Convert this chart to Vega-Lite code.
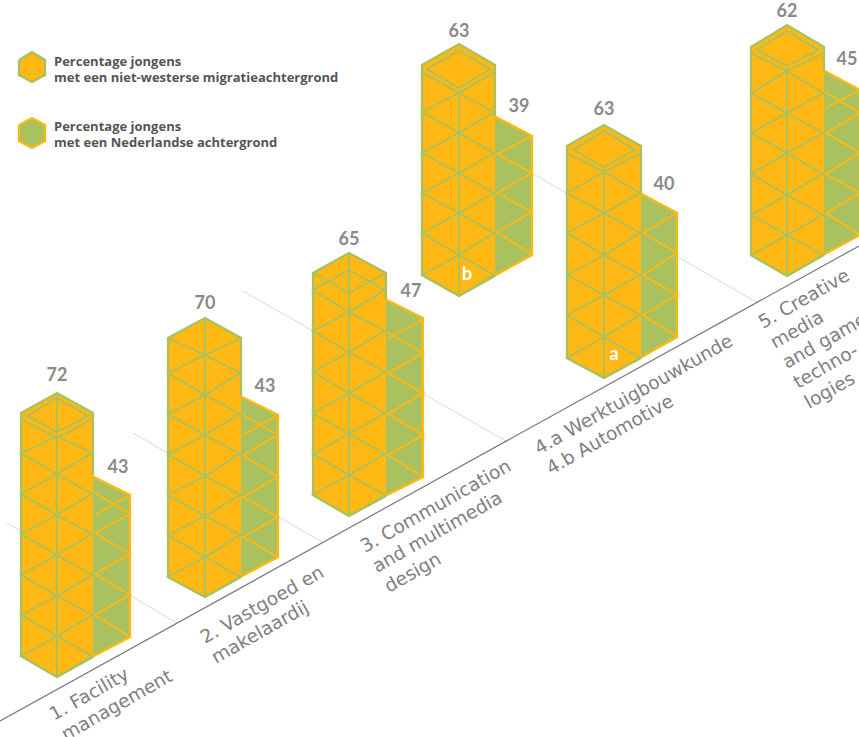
{
"$schema":"https://vega.github.io/schema/vega-lite/v6.json",
"width":859,"height":737,"padding":0,"autosize":{"type":"none"},"background":"#ffffff",
"config":{"view":{"stroke":null}},
"datasets":{
"ground":[
{"id":"g1","x":[7,177],"y":[523,623]},
{"id":"g2","x":[133,322],"y":[433,542]},
{"id":"g3","x":[243,506],"y":[291,441]},
{"id":"g4","x":[495,758],"y":[152,303]}],
"axis":[{"id":"axis","x":[0,859],"y":[721,246]}],
"greenFaces":[
{"category":"1. Facility management","series":"Nederlands","value":43,"x":[92,130],"top":[476,495],"bottom":[657,637]},
{"category":"2. Vastgoed en makelaardij","series":"Nederlands","value":43,"x":[240,278],"top":[396,415],"bottom":[577,557]},
{"category":"3. Communication and multimedia design","series":"Nederlands","value":47,"x":[385,423],"top":[299,318],"bottom":[496,477]},
{"category":"4.b Automotive","series":"Nederlands","value":39,"x":[494,532],"top":[116,136],"bottom":[276,255]},
{"category":"4.a Werktuigbouwkunde","series":"Nederlands","value":40,"x":[640,677],"top":[193,213],"bottom":[358,337]},
{"category":"5. Creative media and game technologies","series":"Nederlands","value":45,"x":[823,860],"top":[70,90],"bottom":[255,235]},
{"category":"legend","series":"Nederlands","value":0,"x":[19,32,45],"top":[125,118,125],"bottom":[141,148,141]}],
"orangeFaces":[
{"category":"1. Facility management","series":"niet-westers","value":72,"x":[21,57,93],"top":[413,393,413],"bottom":[656,677,657]},
{"category":"2. Vastgoed en makelaardij","series":"niet-westers","value":70,"x":[168,205,241],"top":[338,318,338],"bottom":[577,597,577]},
{"category":"3. Communication and multimedia design","series":"niet-westers","value":65,"x":[313,349,386],"top":[273,253,273],"bottom":[495,516,495]},
{"category":"4.b Automotive","series":"niet-westers","value":63,"x":[422,459,495],"top":[65,44,65],"bottom":[275,296,276]},
{"category":"4.a Werktuigbouwkunde","series":"niet-westers","value":63,"x":[567,604,641],"top":[146,125,146],"bottom":[358,378,358]},
{"category":"5. Creative media and game technologies","series":"niet-westers","value":62,"x":[751,787,824],"top":[47,25,47],"bottom":[255,276,255]},
{"category":"legend","series":"niet-westers","value":0,"x":[19,32,45],"top":[60,52,60],"bottom":[75,82,75]}],
"greenLines":[
{"id":"c1o","x":[92,130,130,92],"y":[476,495,637,657]},
{"id":"c1z","x":[95,130,95,130,95,130,95,130],"y":[493,514,533,514,533,554,574,554]},
{"id":"c1y","x":[95,130],"y":[515,495]},
{"id":"c1w","x":[130,95,130,95,130],"y":[554,574,595,615,637]},
{"id":"c2o","x":[240,278,278,240],"y":[396,415,557,577]},
{"id":"c2x","x":[243,278],"y":[415,435]},
{"id":"c2y","x":[243,278],"y":[435,415]},
{"id":"c2z","x":[278,243,278,243,278,243,278],"y":[435,455,477,497,517,537,557]},
{"id":"c3o","x":[385,423,423,385],"y":[299,318,477,496]},
{"id":"c3x","x":[388,423,388,423,388,423,388,423,388,423],"y":[333,353,373,393,414,435,455,477,455,477]},
{"id":"c3y","x":[388,423],"y":[338,320]},
{"id":"c3z","x":[423,388,423,388,423,388],"y":[353,373,393,414,435,455]},
{"id":"c4bo","x":[494,532,532,494],"y":[116,136,255,276]},
{"id":"c4bz","x":[532,497,532,497,532,497,532],"y":[136,154,173,193,212,232,255]},
{"id":"c4ao","x":[640,677,677,640],"y":[193,213,337,358]},
{"id":"c4az","x":[677,643,677,643,677,643,677],"y":[213,233,253,275,295,315,337]},
{"id":"c5o","x":[823,860,860,823],"y":[70,90,235,255]},
{"id":"c5x","x":[826,860],"y":[93,113]},
{"id":"c5y","x":[826,860],"y":[108,90]},
{"id":"c5z","x":[860,826,860,826,860,826,860],"y":[113,133,153,174,193,213,235]},
{"id":"legG","x":[19,32,45,45,32,19,19],"y":[125,118,125,141,148,141,125]}],
"orangeLines":[
{"id":"c1o","x":[93,93,57,21,21,57,93],"y":[475,413,393,413,656,677,657]},
{"id":"c1v","x":[57,57],"y":[393,677]},
{"id":"c1i","x":[57,27,57,88,57],"y":[398,416,432,416,398]},
{"id":"c1c","x":[21,57,93],"y":[419,438,419]},
{"id":"c1l","x":[57,21,57,21,57,21,57,21,57,21,57,21,57],"y":[436,453,474,494,515,534,555,575,596,615,636,656,677]},
{"id":"c1r","x":[57,92,57,92,57,92,57,92,57,92,57,92,57],"y":[436,453,474,494,515,534,555,575,596,615,636,656,677]},
{"id":"c2o","x":[241,241,205,168,168,205,241],"y":[396,338,318,338,577,597,577]},
{"id":"c2v","x":[205,205],"y":[318,597]},
{"id":"c2c","x":[168,205,241],"y":[338,355,338]},
{"id":"c2l","x":[205,168,205,168,205,168,205,168,205,168,205,168,205],"y":[355,373,395,414,435,454,476,495,516,535,557,577,597]},
{"id":"c2r","x":[205,240,205,240,205,240,205,240,205,240,205,240,205],"y":[355,373,395,414,435,454,476,495,516,535,557,577,597]},
{"id":"c3o","x":[386,386,349,313,313,349,386],"y":[299,273,253,273,495,516,496]},
{"id":"c3v","x":[349,349],"y":[253,516]},
{"id":"c3c","x":[313,349,386],"y":[273,293,273]},
{"id":"c3l","x":[349,313,349,313,349,313,349,313,349,313,349,313,349],"y":[270,290,312,331,352,372,393,413,434,454,475,495,516]},
{"id":"c3r","x":[349,385,349,385,349,385,349,385,349,385,349,385,349],"y":[270,290,312,331,352,372,393,413,434,454,475,495,516]},
{"id":"c4bo","x":[495,495,459,422,422,459,495],"y":[116,65,44,65,275,296,276]},
{"id":"c4bv","x":[459,459],"y":[90,296]},
{"id":"c4bi","x":[459,427,459,490,459],"y":[51,69,88,69,51]},
{"id":"c4bc","x":[422,459,495],"y":[72,93,72]},
{"id":"c4bl","x":[459,422,459,422,459,422,459,422,459,422,459],"y":[93,112,133,153,173,193,213,233,255,275,296]},
{"id":"c4br","x":[459,494,459,494,459,494,459,494,459,494,459],"y":[93,112,133,153,173,193,213,233,255,275,296]},
{"id":"c4ao","x":[641,641,604,567,567,604,641],"y":[193,146,125,146,358,378,358]},
{"id":"c4av","x":[604,604],"y":[169,378]},
{"id":"c4ai","x":[604,574,604,635,604],"y":[131,150,167,150,131]},
{"id":"c4ac","x":[567,604,641],"y":[153,172,153]},
{"id":"c4al","x":[604,567,604,567,604,567,604,567,604,567,604],"y":[172,193,213,233,255,275,295,315,337,358,378]},
{"id":"c4ar","x":[604,640,604,640,604,640,604,640,604,640,604],"y":[172,193,213,233,255,275,295,315,337,358,378]},
{"id":"c5o","x":[824,824,787,751,751,787,824],"y":[70,47,25,47,255,276,255]},
{"id":"c5v","x":[787,787],"y":[68,276]},
{"id":"c5i","x":[787,757,787,818,787],"y":[31,50,66,50,31]},
{"id":"c5c","x":[751,787,824],"y":[53,71,53]},
{"id":"c5l","x":[787,751,787,751,787,751,787,751,787,751,787],"y":[71,93,113,133,153,174,195,215,235,255,276]},
{"id":"c5r","x":[787,823,787,823,787,823,787,823,787,823,787],"y":[71,93,113,133,153,174,195,215,235,255,276]},
{"id":"legO","x":[19,32,45,45,32,19,19],"y":[60,52,60,75,82,75,60]}],
"values":[
{"label":"72","x":57,"y":376},{"label":"43","x":118,"y":468},
{"label":"70","x":205,"y":304},{"label":"43","x":265,"y":387},
{"label":"65","x":349,"y":240},{"label":"47","x":411,"y":292},
{"label":"63","x":459,"y":32},{"label":"39","x":519,"y":107},
{"label":"63","x":604,"y":110},{"label":"40","x":664,"y":185},
{"label":"62","x":787,"y":12},{"label":"45","x":847,"y":60}],
"marks":[{"label":"a","x":614,"y":355},{"label":"b","x":467,"y":275}],
"categories":[
{"label":"1. Facility","x":54,"y":721},
{"label":"management","x":66,"y":741},
{"label":"2. Vastgoed en","x":205,"y":644},
{"label":"makelaardij","x":216,"y":664},
{"label":"3. Communication","x":365,"y":553},
{"label":"and multimedia","x":377,"y":573},
{"label":"design","x":389,"y":593},
{"label":"4.a Werktuigbouwkunde","x":539,"y":455},
{"label":"4.b Automotive","x":551,"y":475},
{"label":"5. Creative","x":763,"y":329},
{"label":"media","x":775,"y":349},
{"label":"and game","x":787,"y":369},
{"label":"techno-","x":798,"y":389},
{"label":"logies","x":809,"y":409}],
"legend":[
{"label":"Percentage jongens","x":54,"y":66},
{"label":"met een niet-westerse migratieachtergrond","x":54,"y":82},
{"label":"Percentage jongens","x":54,"y":131},
{"label":"met een Nederlandse achtergrond","x":54,"y":147}]
},
"encoding":{
"x":{"field":"x","type":"quantitative","scale":{"domain":[0,859],"nice":false,"zero":false},"axis":null},
"y":{"field":"y","type":"quantitative","scale":{"domain":[737,0],"nice":false,"zero":false},"axis":null}
},
"layer":[
{"data":{"name":"ground"},"transform":[{"flatten":["x","y"]}],"mark":{"type":"line","stroke":"#d9d9d9","strokeWidth":1},"encoding":{"detail":{"field":"id"},"order":{"value":null}}},
{"data":{"name":"axis"},"transform":[{"flatten":["x","y"]}],"mark":{"type":"line","stroke":"#7a7a7a","strokeWidth":1.2},"encoding":{"detail":{"field":"id"},"order":{"value":null}}},
{"data":{"name":"greenFaces"},"transform":[{"flatten":["x","top","bottom"]}],"mark":{"type":"area","fill":"#a9c25f","orient":"vertical"},"encoding":{"y":{"field":"top","type":"quantitative","scale":{"domain":[737,0],"nice":false,"zero":false},"axis":null},"y2":{"field":"bottom"},"detail":{"field":"category"}}},
{"data":{"name":"orangeFaces"},"transform":[{"flatten":["x","top","bottom"]}],"mark":{"type":"area","fill":"#ffb814","orient":"vertical"},"encoding":{"y":{"field":"top","type":"quantitative","scale":{"domain":[737,0],"nice":false,"zero":false},"axis":null},"y2":{"field":"bottom"},"detail":{"field":"category"}}},
{"data":{"name":"greenLines"},"transform":[{"flatten":["x","y"]}],"mark":{"type":"line","stroke":"#ffb814","strokeJoin":"miter"},"encoding":{"detail":{"field":"id"},"order":{"value":null},"strokeWidth":{"condition":{"test":"test(/o$|^leg/, datum.id)","value":2.3},"value":1.9}}},
{"data":{"name":"orangeLines"},"transform":[{"flatten":["x","y"]}],"mark":{"type":"line","stroke":"#a9c25f","strokeJoin":"miter"},"encoding":{"detail":{"field":"id"},"order":{"value":null},"strokeWidth":{"condition":{"test":"test(/o$|^leg/, datum.id)","value":2.3},"value":1.9}}},
{"data":{"name":"values"},"mark":{"type":"text","font":"Lato","fontWeight":"bold","fontSize":18,"fill":"#8a8a8a","align":"center","baseline":"middle"},"encoding":{"text":{"field":"label"}}},
{"data":{"name":"marks"},"mark":{"type":"text","font":"Lato","fontWeight":"bold","fontSize":18,"fill":"#ffffff","align":"center","baseline":"middle"},"encoding":{"text":{"field":"label"}}},
{"data":{"name":"categories"},"mark":{"type":"text","font":"DejaVu Sans","fontSize":18.5,"fill":"#808080","align":"left","baseline":"alphabetic","angle":-29.5},"encoding":{"text":{"field":"label"}}},
{"data":{"name":"legend"},"mark":{"type":"text","font":"Open Sans","fontWeight":"bold","fontSize":13,"fill":"#555555","align":"left","baseline":"alphabetic"},"encoding":{"text":{"field":"label"}}}
]
}
